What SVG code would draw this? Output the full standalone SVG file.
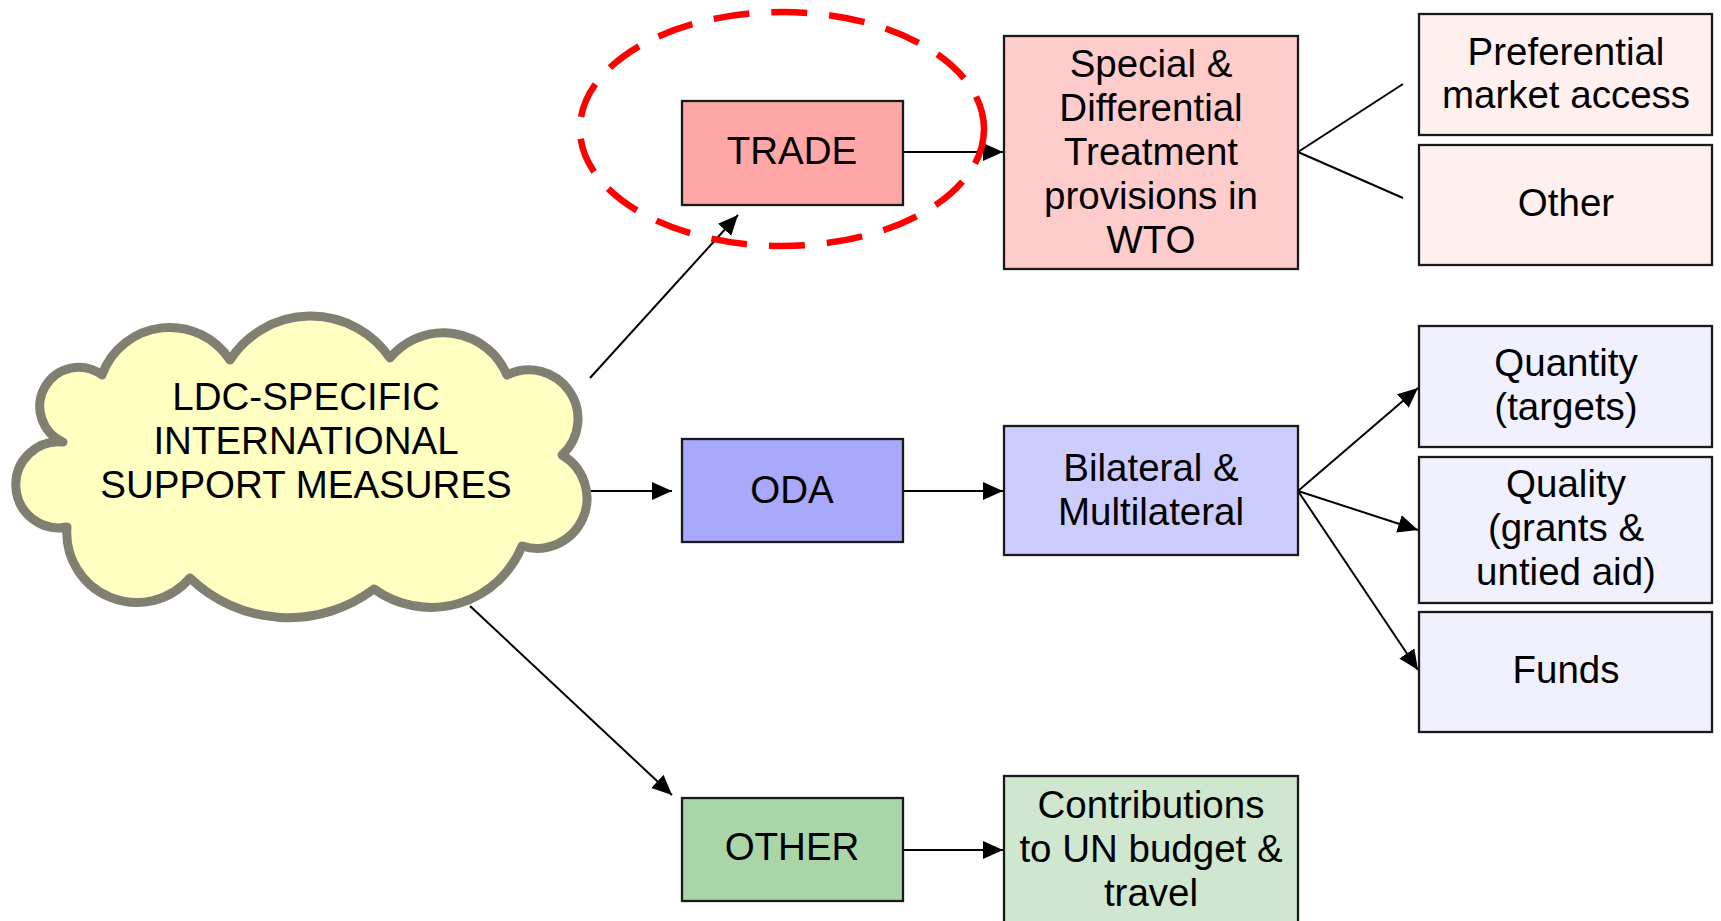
<svg xmlns="http://www.w3.org/2000/svg" width="1721" height="921" viewBox="0 0 1721 921">
<style>
  text { font-family: "Liberation Sans", Arial, sans-serif; font-size: 38.5px; fill: #000; text-anchor: middle; }
  .box { stroke: #1a1a1a; stroke-width: 2.3; }
  .conn { stroke: #000; stroke-width: 2; fill: none; }
  .arr { marker-end: url(#ah); }
</style>
<defs>
  <marker id="ah" markerUnits="userSpaceOnUse" markerWidth="21" markerHeight="19" refX="20" refY="9" orient="auto">
    <path d="M0,0 L20,9 L0,18 z" fill="#000"/>
  </marker>
</defs>
<rect width="1721" height="921" fill="#fff"/>

<g id="connectors">
  <line class="conn arr" x1="590" y1="378" x2="738" y2="215"/>
  <line class="conn arr" x1="590" y1="491" x2="672" y2="491"/>
  <line class="conn arr" x1="470" y1="606" x2="672" y2="795"/>
  <line class="conn arr" x1="903" y1="152" x2="1003" y2="152"/>
  <line class="conn arr" x1="903" y1="491" x2="1003" y2="491"/>
  <line class="conn arr" x1="903" y1="850" x2="1003" y2="850"/>
  <line class="conn" x1="1298" y1="152" x2="1403" y2="84"/>
  <line class="conn" x1="1298" y1="152" x2="1403" y2="198"/>
  <line class="conn arr" x1="1298" y1="491" x2="1418" y2="388"/>
  <line class="conn arr" x1="1298" y1="491" x2="1418" y2="530"/>
  <line class="conn arr" x1="1298" y1="491" x2="1418" y2="670"/>
</g>

<g id="cloud">
  <path d="M102,375 A72,72 0 0 1 230,360 A96,96 0 0 1 390,358 A69,69 0 0 1 507,375 A49,49 0 0 1 562,455 A50,50 0 0 1 522,546 A98,98 0 0 1 374,589 A142,142 0 0 1 190,578 A70,70 0 0 1 67,527 A43,43 0 1 1 63,442 A39,39 0 1 1 102,375 Z" fill="#ffffc2" stroke="#807f72" stroke-width="9" stroke-linejoin="round"/>
  <text x="306" y="410">LDC-SPECIFIC</text>
  <text x="306" y="454">INTERNATIONAL</text>
  <text x="306" y="498">SUPPORT MEASURES</text>
</g>

<g id="trade">
  <rect class="box" x="682" y="101" width="221" height="104" fill="#ffa6a6"/>
  <text x="792" y="164">TRADE</text>
</g>

<g id="highlight">
  <ellipse cx="782" cy="129" rx="202" ry="117" fill="none" stroke="#ff0000" stroke-width="6.5" stroke-dasharray="36 22"/>
</g>

<g id="sdt">
  <rect class="box" x="1004" y="36" width="294" height="233" fill="#ffcccc"/>
  <text x="1151" y="77">Special &amp;</text>
  <text x="1151" y="121">Differential</text>
  <text x="1151" y="165">Treatment</text>
  <text x="1151" y="209">provisions in</text>
  <text x="1151" y="253">WTO</text>
</g>

<g id="preferential">
  <rect class="box" x="1419" y="14" width="293" height="121" fill="#fff0f0"/>
  <text x="1566" y="65">Preferential</text>
  <text x="1566" y="108">market access</text>
</g>

<g id="other-trade">
  <rect class="box" x="1419" y="145" width="293" height="120" fill="#fff0f0"/>
  <text x="1566" y="216">Other</text>
</g>

<g id="oda">
  <rect class="box" x="682" y="439" width="221" height="103" fill="#a8a8fd"/>
  <text x="792" y="503">ODA</text>
</g>

<g id="bilateral">
  <rect class="box" x="1004" y="426" width="294" height="129" fill="#ccccff"/>
  <text x="1151" y="481">Bilateral &amp;</text>
  <text x="1151" y="525">Multilateral</text>
</g>

<g id="quantity">
  <rect class="box" x="1419" y="326" width="293" height="121" fill="#f0f0ff"/>
  <text x="1566" y="376">Quantity</text>
  <text x="1566" y="420">(targets)</text>
</g>

<g id="quality">
  <rect class="box" x="1419" y="457" width="293" height="146" fill="#f0f0ff"/>
  <text x="1566" y="497">Quality</text>
  <text x="1566" y="541">(grants &amp;</text>
  <text x="1566" y="585">untied aid)</text>
</g>

<g id="funds">
  <rect class="box" x="1419" y="612" width="293" height="120" fill="#f0f0ff"/>
  <text x="1566" y="683">Funds</text>
</g>

<g id="other">
  <rect class="box" x="682" y="798" width="221" height="103" fill="#a9d5a9"/>
  <text x="792" y="860">OTHER</text>
</g>

<g id="contributions">
  <rect class="box" x="1004" y="776" width="294" height="150" fill="#cfe6cf"/>
  <text x="1151" y="818">Contributions</text>
  <text x="1151" y="862">to UN budget &amp;</text>
  <text x="1151" y="906">travel</text>
</g>
</svg>
